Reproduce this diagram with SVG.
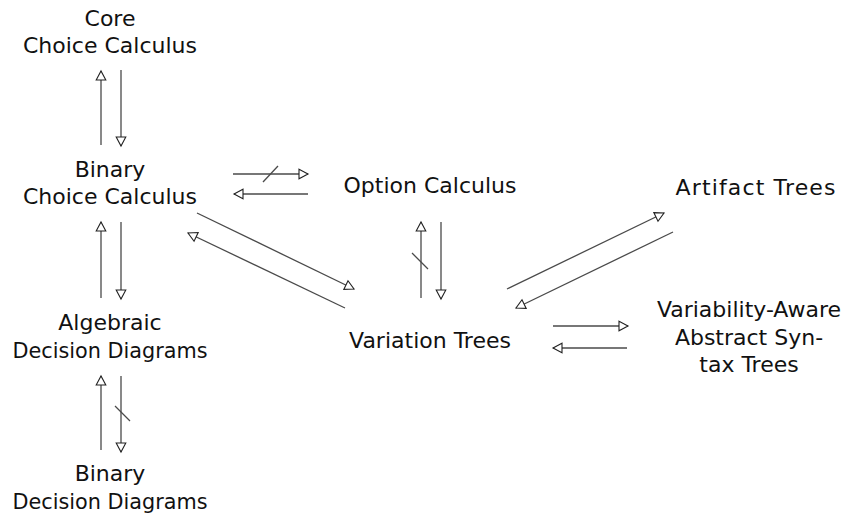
<svg xmlns="http://www.w3.org/2000/svg" width="846" height="517" viewBox="0 0 846 517">
<style>
text{font-family:"DejaVu Sans","Liberation Sans",sans-serif;font-size:22px;fill:#111;text-anchor:middle}
.c line{stroke:#4a4a4a;stroke-width:1.3;marker-end:url(#h)}
.s{stroke:#222;stroke-width:1.2;marker-end:none!important}
</style>
<defs>
<marker id="h" viewBox="-11 -6 13 12" refX="0" refY="0" markerWidth="13" markerHeight="12" markerUnits="userSpaceOnUse" orient="auto">
<path d="M-9,-4.8 L0,0 L-9,4.8 Z" fill="#fff" stroke="#222" stroke-width="1.1" stroke-linejoin="miter"/>
</marker>
</defs>
<rect width="846" height="517" fill="#fff"/>
<g id="core"><text x="110" y="26">Core</text><text x="110" y="53">Choice Calculus</text></g>
<g id="bcc"><text x="110" y="177">Binary</text><text x="110" y="204">Choice Calculus</text></g>
<g id="add"><text x="110" y="330">Algebraic</text><text x="110" y="358" textLength="195" lengthAdjust="spacingAndGlyphs">Decision Diagrams</text></g>
<g id="bdd"><text x="110" y="481">Binary</text><text x="110" y="509" textLength="195" lengthAdjust="spacingAndGlyphs">Decision Diagrams</text></g>
<g id="option"><text x="430" y="193">Option Calculus</text></g>
<g id="artifact"><text x="755.5" y="195" textLength="160" lengthAdjust="spacing">Artifact Trees</text></g>
<g id="variation"><text x="430" y="348">Variation Trees</text></g>
<g id="vaast"><text x="749" y="317">Variability-Aware</text><text x="749" y="345">Abstract Syn-</text><text x="749" y="372">tax Trees</text></g>
<g class="c" id="connectors">
<line x1="101" y1="145" x2="101" y2="71"/>
<line x1="121" y1="70" x2="121" y2="146"/>
<line x1="101" y1="298" x2="101" y2="222"/>
<line x1="121" y1="222" x2="121" y2="299"/>
<line x1="101" y1="450" x2="101" y2="376"/>
<line x1="121" y1="376" x2="121" y2="452"/>
<line class="s" x1="115" y1="406" x2="130" y2="421"/>
<line x1="233" y1="174" x2="308" y2="174"/>
<line class="s" x1="263" y1="182" x2="278" y2="166"/>
<line x1="308" y1="194" x2="234" y2="194"/>
<line x1="421" y1="298" x2="421" y2="222"/>
<line class="s" x1="412" y1="253" x2="428" y2="269"/>
<line x1="441" y1="222" x2="441" y2="299"/>
<line x1="197" y1="213" x2="354" y2="289"/>
<line x1="345" y1="308" x2="188" y2="233"/>
<line x1="507" y1="289" x2="664" y2="213"/>
<line x1="673" y1="232" x2="516" y2="308"/>
<line x1="553" y1="326" x2="628" y2="326"/>
<line x1="627" y1="348" x2="553" y2="348"/>
</g>
</svg>
